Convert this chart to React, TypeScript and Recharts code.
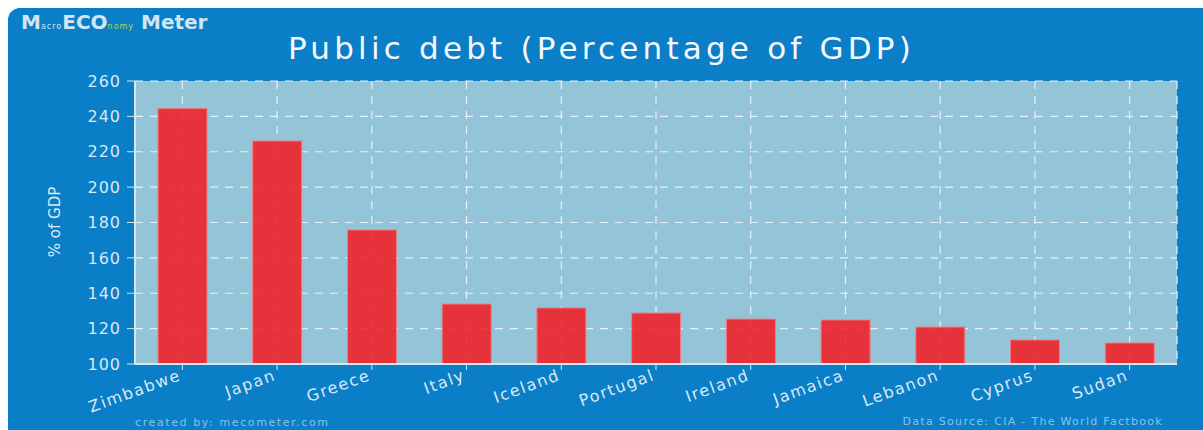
import React from 'react';
import { BarChart, Bar, XAxis, YAxis, CartesianGrid } from 'recharts';

const countries = ['Zimbabwe', 'Japan', 'Greece', 'Italy', 'Iceland', 'Portugal', 'Ireland', 'Jamaica', 'Lebanon', 'Cyprus', 'Sudan'];
const debtValues = [244.5, 226.1, 175.8, 133.9, 131.7, 128.8, 125.4, 124.9, 120.9, 113.6, 111.9];
const yTicks = [100, 120, 140, 160, 180, 200, 220, 240, 260];

const data = countries.map((c, i) => ({ country: c, value: debtValues[i] }));

const FONT = '"DejaVu Sans", Verdana, sans-serif';
const TEXT = '#dbe9f5';

const XTick = (props: any) => {
  const { x, y, payload } = props;
  return (
    <g transform={`translate(${x - 3},${y})`}>
      <text
        x={0}
        y={0}
        dy={8}
        textAnchor="end"
        transform="rotate(-20)"
        fill={TEXT}
        fontSize={16}
        letterSpacing={1.6}
        fontFamily={FONT}
      >
        {payload.value}
      </text>
    </g>
  );
};

export default function App() {
  return (
    <div style={{ position: 'absolute', left: 0, top: 0, width: 1203, height: 430, background: '#fff' }}>
      <div
        style={{
          position: 'absolute',
          left: 8,
          top: 8,
          width: 1195,
          height: 422,
          background: '#0a7ec6',
          borderTopLeftRadius: 12,
        }}
      />
      <div style={{ position: 'absolute', left: 0, top: 0 }}>
        <BarChart width={1203} height={430} data={data} margin={{ top: 81, right: 26, bottom: 0, left: 0 }}>
          <CartesianGrid
            fill="#94c4d8"
            stroke="#e6f0f6"
            strokeDasharray="8 7"
            strokeWidth={1.2}
          />
          <XAxis
            dataKey="country"
            height={66}
            interval={0}
            tick={<XTick />}
            stroke="#d6e6f0"
            tickLine={{ stroke: '#d6e6f0' }}
            tickSize={6}
            axisLine={{ stroke: '#d6e6f0', strokeWidth: 2 }}
          />
          <YAxis
            width={135}
            domain={[100, 260]}
            ticks={yTicks}
            interval={0}
            allowDataOverflow
            tick={{ fill: TEXT, fontSize: 16, fontFamily: FONT, letterSpacing: 1 }}
            tickSize={8}
            tickMargin={6}
            axisLine={{ stroke: '#d6e6f0', strokeWidth: 2 }}
            tickLine={{ stroke: '#d6e6f0' }}
          />
          <Bar
            dataKey="value"
            fill="#ee222a"
            fillOpacity={0.9}
            stroke="#f07d84"
            strokeWidth={1}
            barSize={49}
            isAnimationActive={false}
          />
        </BarChart>
      </div>
      <div
        style={{
          position: 'absolute',
          left: 0,
          width: 1203,
          top: 28,
          textAlign: 'center',
          color: '#f4f8fc',
          fontFamily: FONT,
          fontSize: 31,
          letterSpacing: 4.2,
          lineHeight: '40px',
          whiteSpace: 'nowrap',
        }}
      >
        Public debt (Percentage of GDP)
      </div>
      <div
        style={{
          position: 'absolute',
          left: 55,
          top: 222,
          transform: 'translate(-50%, -50%) rotate(-90deg)',
          color: TEXT,
          fontFamily: FONT,
          fontSize: 15,
          whiteSpace: 'nowrap',
        }}
      >
        % of GDP
      </div>
      <div
        style={{
          position: 'absolute',
          left: 21,
          top: 10,
          color: '#cfe6f6',
          fontFamily: FONT,
          fontWeight: 'bold',
          fontSize: 20,
          whiteSpace: 'nowrap',
        }}
      >
        M<span style={{ fontSize: 8, fontWeight: 'normal', letterSpacing: 1 }}>acro</span>ECO
        <span style={{ fontSize: 8, fontWeight: 'normal', color: '#b8d84a', letterSpacing: 1 }}>nomy</span> Meter
      </div>
      <div
        style={{
          position: 'absolute',
          left: 135,
          top: 416,
          color: '#8fc0e4',
          fontFamily: FONT,
          fontSize: 11,
          letterSpacing: 1.6,
          whiteSpace: 'nowrap',
        }}
      >
        created by: mecometer.com
      </div>
      <div
        style={{
          position: 'absolute',
          right: 40,
          top: 415,
          color: '#8fc0e4',
          fontFamily: FONT,
          fontSize: 11,
          letterSpacing: 1.3,
          whiteSpace: 'nowrap',
        }}
      >
        Data Source: CIA - The World Factbook
      </div>
    </div>
  );
}
